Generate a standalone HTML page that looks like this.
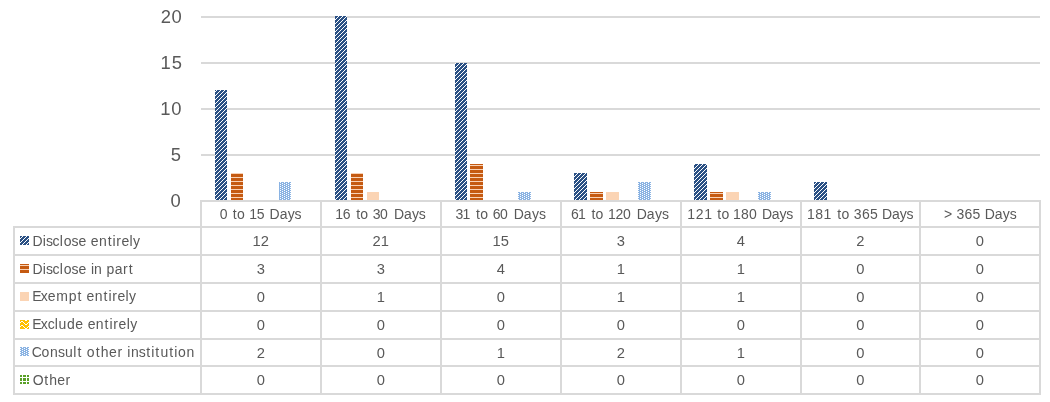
<!DOCTYPE html>
<html lang="en"><head><meta charset="utf-8"><title>Requests by disposition and completion time</title>
<style>html,body{margin:0;padding:0;background:#fff}body{width:1050px;height:402px;overflow:hidden}svg{display:block}text{font-family:"Liberation Sans", sans-serif;fill:#595959}</style>
</head><body>
<svg width="1050" height="402" viewBox="0 0 1050 402">
<defs>
<pattern id="p-diag" patternUnits="userSpaceOnUse" x="0" y="0" width="4" height="4" shape-rendering="crispEdges"><rect width="4" height="4" fill="#2A5084"/><rect x="2" y="0" width="1" height="1" fill="#fff"/><rect x="1" y="1" width="1" height="1" fill="#fff"/><rect x="0" y="2" width="1" height="1" fill="#fff"/><rect x="3" y="3" width="1" height="1" fill="#fff"/></pattern>
<pattern id="p-horz" patternUnits="userSpaceOnUse" x="0" y="0" width="4" height="4" shape-rendering="crispEdges"><rect width="4" height="4" fill="#C55A11"/><rect x="0" y="1" width="4" height="1" fill="#F9D2B6"/></pattern>
<pattern id="p-solid" patternUnits="userSpaceOnUse" x="0" y="0" width="4" height="4" shape-rendering="crispEdges"><rect width="4" height="4" fill="#FBD4B4"/></pattern>
<pattern id="p-zig" patternUnits="userSpaceOnUse" x="0" y="0" width="8" height="4" shape-rendering="crispEdges"><rect width="8" height="4" fill="#FFC000"/><rect x="1" y="0" width="2" height="1" fill="#fff"/><rect x="5" y="1" width="2" height="1" fill="#fff"/><rect x="4" y="2" width="1" height="1" fill="#fff"/><rect x="7" y="2" width="1" height="1" fill="#fff"/><rect x="0" y="3" width="1" height="1" fill="#fff"/><rect x="3" y="3" width="1" height="1" fill="#fff"/></pattern>
<pattern id="p-dots" patternUnits="userSpaceOnUse" x="0" y="0" width="4" height="2" shape-rendering="crispEdges"><rect width="4" height="2" fill="#8AB3E3"/><rect x="0" y="0" width="1" height="1" fill="#fff"/><rect x="2" y="1" width="1" height="1" fill="#fff"/></pattern>
<pattern id="p-grid" patternUnits="userSpaceOnUse" x="0" y="0" width="4" height="4" shape-rendering="crispEdges"><rect width="4" height="4" fill="#5AA028"/><rect x="2" y="0" width="1" height="4" fill="#fff"/><rect x="0" y="1" width="4" height="1" fill="#fff"/></pattern>
<clipPath id="plot"><rect x="201" y="16" width="840" height="184"/></clipPath>
</defs>
<rect width="1050" height="402" fill="#fff"/>
<g fill="#D9D9D9" shape-rendering="crispEdges">
<rect x="201" y="16" width="839" height="2"/>
<rect x="201" y="62" width="839" height="2"/>
<rect x="201" y="108" width="839" height="2"/>
<rect x="201" y="154" width="839" height="2"/>
</g>
<g clip-path="url(#plot)">
<rect x="215" y="90" width="12" height="110" fill="url(#p-diag)" shape-rendering="crispEdges"/>
<rect x="335" y="8" width="12" height="192" fill="url(#p-diag)" shape-rendering="crispEdges"/>
<rect x="455" y="63" width="12" height="137" fill="url(#p-diag)" shape-rendering="crispEdges"/>
<rect x="574" y="173" width="13" height="27" fill="url(#p-diag)" shape-rendering="crispEdges"/>
<rect x="694" y="164" width="13" height="36" fill="url(#p-diag)" shape-rendering="crispEdges"/>
<rect x="814" y="182" width="13" height="18" fill="url(#p-diag)" shape-rendering="crispEdges"/>
<rect x="231" y="173" width="12" height="27" fill="url(#p-horz)" shape-rendering="crispEdges"/>
<rect x="351" y="173" width="12" height="27" fill="url(#p-horz)" shape-rendering="crispEdges"/>
<rect x="470" y="164" width="13" height="36" fill="url(#p-horz)" shape-rendering="crispEdges"/>
<rect x="590" y="192" width="13" height="8" fill="url(#p-horz)" shape-rendering="crispEdges"/>
<rect x="710" y="192" width="13" height="8" fill="url(#p-horz)" shape-rendering="crispEdges"/>
<rect x="367" y="192" width="12" height="8" fill="url(#p-solid)" shape-rendering="crispEdges"/>
<rect x="606" y="192" width="13" height="8" fill="url(#p-solid)" shape-rendering="crispEdges"/>
<rect x="726" y="192" width="13" height="8" fill="url(#p-solid)" shape-rendering="crispEdges"/>
<rect x="279" y="182" width="12" height="18" fill="url(#p-dots)" shape-rendering="crispEdges"/>
<rect x="518" y="192" width="13" height="8" fill="url(#p-dots)" shape-rendering="crispEdges"/>
<rect x="638" y="182" width="13" height="18" fill="url(#p-dots)" shape-rendering="crispEdges"/>
<rect x="758" y="192" width="13" height="8" fill="url(#p-dots)" shape-rendering="crispEdges"/>
</g>
<g fill="#D9D9D9" shape-rendering="crispEdges">
<rect x="201" y="200" width="840" height="2"/>
<rect x="13" y="226" width="1028" height="2"/>
<rect x="13" y="254" width="1028" height="2"/>
<rect x="13" y="282" width="1028" height="2"/>
<rect x="13" y="310" width="1028" height="2"/>
<rect x="13" y="338" width="1028" height="2"/>
<rect x="13" y="365" width="1028" height="2"/>
<rect x="13" y="393" width="1028" height="2"/>
<rect x="13" y="226" width="2" height="169"/>
<rect x="200" y="200" width="2" height="195"/>
<rect x="320" y="200" width="2" height="195"/>
<rect x="440" y="200" width="2" height="195"/>
<rect x="560" y="200" width="2" height="195"/>
<rect x="680" y="200" width="2" height="195"/>
<rect x="800" y="200" width="2" height="195"/>
<rect x="919" y="200" width="2" height="195"/>
<rect x="1039" y="200" width="2" height="195"/>
</g>
<text transform="translate(0 23.00) scale(1 1)" x="160.76 171.51" y="0" font-size="18.4">20</text>
<text transform="translate(0 69.00) scale(1 1)" x="160.43 171.64" y="0" font-size="18.4">15</text>
<text transform="translate(0 115.00) scale(1 1)" x="160.33 171.24" y="0" font-size="18.4">10</text>
<text transform="translate(0 161.00) scale(1 1)" x="170.68" y="0" font-size="18.4">5</text>
<text transform="translate(0 207.00) scale(1 1)" x="170.53" y="0" font-size="18.4">0</text>
<text transform="translate(0 219.00) scale(1 1)" x="219.81 227.81 232.83 236.96 244.57 249.36 256.66 264.20 269.60 279.67 287.65 294.51" y="0" font-size="14">0 to 15 Days</text>
<text transform="translate(0 219.00) scale(1 1)" x="335.31 342.75 350.36 356.19 360.21 367.76 372.84 379.89 387.31 393.89 403.93 411.88 418.72" y="0" font-size="14">16 to 30 Days</text>
<text transform="translate(0 219.00) scale(1 1)" x="455.51 462.49 469.87 476.07 480.30 487.98 492.85 499.90 507.31 513.65 523.84 531.92 538.88" y="0" font-size="14">31 to 60 Days</text>
<text transform="translate(0 219.00) scale(1 1)" x="571.12 578.09 585.47 591.43 595.56 603.17 608.04 615.56 623.08 630.73 636.65 646.84 654.92 661.88" y="0" font-size="14">61 to 120 Days</text>
<text transform="translate(0 219.00) scale(1 1)" x="687.16 695.66 704.16 712.30 717.14 721.59 729.39 732.91 740.98 749.04 756.96 761.91 771.77 779.57 786.28" y="0" font-size="14">121 to 180 Days</text>
<text transform="translate(0 219.00) scale(1 1)" x="806.89 815.17 823.45 831.48 837.22 841.62 849.39 853.78 861.91 870.04 878.00 882.03 891.95 899.80 906.56" y="0" font-size="14">181 to 365 Days</text>
<text transform="translate(0 219.00) scale(1 1)" x="943.96 952.09 956.42 964.41 972.39 980.28 984.71 994.81 1002.81 1009.71" y="0" font-size="14">&gt; 365 Days</text>
<text transform="translate(0 246.00) scale(1 1)" x="32.50 42.87 45.98 52.61 59.86 63.68 71.55 78.39 86.34 90.82 98.93 107.69 112.56 116.36 121.51 129.61 133.07" y="0" font-size="14">Disclose entirely</text>
<text transform="translate(0 274.00) scale(1 1)" x="32.50 42.87 45.98 52.61 59.86 63.68 71.55 78.39 86.34 90.97 94.06 101.73 106.58 114.67 122.90 128.79" y="0" font-size="14">Disclose in part</text>
<text transform="translate(0 301.00) scale(1 1)" x="32.16 40.71 47.77 56.22 68.76 77.60 82.23 86.54 94.70 103.51 108.40 112.23 117.42 125.55 129.05" y="0" font-size="14">Exempt entirely</text>
<text transform="translate(0 329.00) scale(1 1)" x="32.18 40.77 47.67 54.87 58.62 67.09 75.33 83.23 87.64 95.80 104.61 109.50 113.33 118.52 126.65 130.15" y="0" font-size="14">Exclude entirely</text>
<text transform="translate(0 357.00) scale(1 1)" x="31.87 41.59 50.09 57.88 64.89 73.32 77.49 82.13 86.75 95.70 100.75 109.06 117.50 122.67 127.18 130.96 138.78 146.22 151.18 155.36 160.39 169.30 174.27 178.06 186.59" y="0" font-size="14">Consult other institution</text>
<text transform="translate(0 385.00) scale(1 1)" x="32.81 44.24 49.13 57.27 65.56" y="0" font-size="14">Other</text>
<rect x="20" y="236" width="9" height="9" fill="url(#p-diag)" shape-rendering="crispEdges"/>
<text transform="translate(260.75 246.00) scale(1.03 1)" font-size="14.3" text-anchor="middle">12</text>
<text transform="translate(380.75 246.00) scale(1.03 1)" font-size="14.3" text-anchor="middle">21</text>
<text transform="translate(500.75 246.00) scale(1.03 1)" font-size="14.3" text-anchor="middle">15</text>
<text transform="translate(620.75 246.00) scale(1.03 1)" font-size="14.3" text-anchor="middle">3</text>
<text transform="translate(740.75 246.00) scale(1.03 1)" font-size="14.3" text-anchor="middle">4</text>
<text transform="translate(860.25 246.00) scale(1.03 1)" font-size="14.3" text-anchor="middle">2</text>
<text transform="translate(979.75 246.00) scale(1.03 1)" font-size="14.3" text-anchor="middle">0</text>
<rect x="20" y="264" width="9" height="9" fill="url(#p-horz)" shape-rendering="crispEdges"/>
<text transform="translate(260.75 274.00) scale(1.03 1)" font-size="14.3" text-anchor="middle">3</text>
<text transform="translate(380.75 274.00) scale(1.03 1)" font-size="14.3" text-anchor="middle">3</text>
<text transform="translate(500.75 274.00) scale(1.03 1)" font-size="14.3" text-anchor="middle">4</text>
<text transform="translate(620.75 274.00) scale(1.03 1)" font-size="14.3" text-anchor="middle">1</text>
<text transform="translate(740.75 274.00) scale(1.03 1)" font-size="14.3" text-anchor="middle">1</text>
<text transform="translate(860.25 274.00) scale(1.03 1)" font-size="14.3" text-anchor="middle">0</text>
<text transform="translate(979.75 274.00) scale(1.03 1)" font-size="14.3" text-anchor="middle">0</text>
<rect x="20" y="292" width="9" height="9" fill="url(#p-solid)" shape-rendering="crispEdges"/>
<text transform="translate(260.75 302.00) scale(1.03 1)" font-size="14.3" text-anchor="middle">0</text>
<text transform="translate(380.75 302.00) scale(1.03 1)" font-size="14.3" text-anchor="middle">1</text>
<text transform="translate(500.75 302.00) scale(1.03 1)" font-size="14.3" text-anchor="middle">0</text>
<text transform="translate(620.75 302.00) scale(1.03 1)" font-size="14.3" text-anchor="middle">1</text>
<text transform="translate(740.75 302.00) scale(1.03 1)" font-size="14.3" text-anchor="middle">1</text>
<text transform="translate(860.25 302.00) scale(1.03 1)" font-size="14.3" text-anchor="middle">0</text>
<text transform="translate(979.75 302.00) scale(1.03 1)" font-size="14.3" text-anchor="middle">0</text>
<rect x="20" y="320" width="9" height="9" fill="url(#p-zig)" shape-rendering="crispEdges"/>
<text transform="translate(260.75 330.00) scale(1.03 1)" font-size="14.3" text-anchor="middle">0</text>
<text transform="translate(380.75 330.00) scale(1.03 1)" font-size="14.3" text-anchor="middle">0</text>
<text transform="translate(500.75 330.00) scale(1.03 1)" font-size="14.3" text-anchor="middle">0</text>
<text transform="translate(620.75 330.00) scale(1.03 1)" font-size="14.3" text-anchor="middle">0</text>
<text transform="translate(740.75 330.00) scale(1.03 1)" font-size="14.3" text-anchor="middle">0</text>
<text transform="translate(860.25 330.00) scale(1.03 1)" font-size="14.3" text-anchor="middle">0</text>
<text transform="translate(979.75 330.00) scale(1.03 1)" font-size="14.3" text-anchor="middle">0</text>
<rect x="20" y="347" width="9" height="9" fill="url(#p-dots)" shape-rendering="crispEdges"/>
<text transform="translate(260.75 358.00) scale(1.03 1)" font-size="14.3" text-anchor="middle">2</text>
<text transform="translate(380.75 358.00) scale(1.03 1)" font-size="14.3" text-anchor="middle">0</text>
<text transform="translate(500.75 358.00) scale(1.03 1)" font-size="14.3" text-anchor="middle">1</text>
<text transform="translate(620.75 358.00) scale(1.03 1)" font-size="14.3" text-anchor="middle">2</text>
<text transform="translate(740.75 358.00) scale(1.03 1)" font-size="14.3" text-anchor="middle">1</text>
<text transform="translate(860.25 358.00) scale(1.03 1)" font-size="14.3" text-anchor="middle">0</text>
<text transform="translate(979.75 358.00) scale(1.03 1)" font-size="14.3" text-anchor="middle">0</text>
<rect x="20" y="375" width="9" height="9" fill="url(#p-grid)" shape-rendering="crispEdges"/>
<text transform="translate(260.75 385.00) scale(1.03 1)" font-size="14.3" text-anchor="middle">0</text>
<text transform="translate(380.75 385.00) scale(1.03 1)" font-size="14.3" text-anchor="middle">0</text>
<text transform="translate(500.75 385.00) scale(1.03 1)" font-size="14.3" text-anchor="middle">0</text>
<text transform="translate(620.75 385.00) scale(1.03 1)" font-size="14.3" text-anchor="middle">0</text>
<text transform="translate(740.75 385.00) scale(1.03 1)" font-size="14.3" text-anchor="middle">0</text>
<text transform="translate(860.25 385.00) scale(1.03 1)" font-size="14.3" text-anchor="middle">0</text>
<text transform="translate(979.75 385.00) scale(1.03 1)" font-size="14.3" text-anchor="middle">0</text>
</svg>
</body></html>
